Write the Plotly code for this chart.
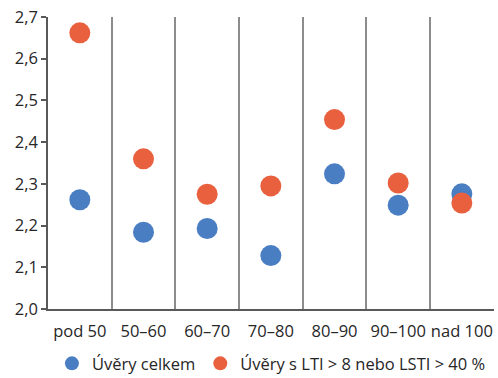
import plotly.graph_objects as go

categories = ["pod 50", "50–60", "60–70", "70–80", "80–90", "90–100", "nad 100"]
celkem = [2.262, 2.184, 2.193, 2.128, 2.324, 2.249, 2.276]
lti_lsti = [2.662, 2.360, 2.275, 2.295, 2.454, 2.302, 2.254]
names = ["Úvěry celkem", "Úvěry s LTI > 8 nebo LSTI > 40 %"]
colors = ["#4A7EC3", "#E9603F"]

xpos = list(range(len(categories)))
fig = go.Figure()
for name, vals, col in zip(names, [celkem, lti_lsti], colors):
    fig.add_trace(go.Scatter(x=xpos, y=vals, mode="markers", name=name,
                             marker=dict(size=21, color=col), showlegend=False))
    # legend entry with a smaller symbol
    fig.add_trace(go.Scatter(x=[None], y=[None], mode="markers", name=name,
                             marker=dict(size=14, color=col), showlegend=True))

font = dict(family="Open Sans, Noto Sans, sans-serif", size=16.5, color="#262626")
fig.update_layout(
    width=498, height=378,
    margin=dict(l=48, r=4, t=17, b=69, autoexpand=False),
    paper_bgcolor="white", plot_bgcolor="white",
    separators=", ",
    font=font,
    legend=dict(orientation="h", x=0.545, xanchor="center", xref="container",
                y=0.038, yanchor="middle", yref="container",
                font=dict(size=16.5), itemwidth=30, tracegroupgap=0),
    xaxis=dict(range=[-0.5, 6.505], tickvals=xpos, ticktext=categories,
               tickangle=0, ticklabelstandoff=6,
               showgrid=False, showline=True, linecolor="#595959", linewidth=1.5,
               ticks="", zeroline=False, automargin=False,
               minor=dict(tickvals=[i + 0.5 for i in range(len(categories))],
                          showgrid=True, gridcolor="#8C8C8C", gridwidth=1.5, ticks="")),
    yaxis=dict(range=[2.0, 2.7], dtick=0.1, tickformat=".1f", showgrid=False,
               showline=True, linecolor="#595959", linewidth=1.5,
               ticks="outside", ticklen=5, tickwidth=1.5, tickcolor="#595959",
               zeroline=False, automargin=False),
)
fig.write_html("out.html")
